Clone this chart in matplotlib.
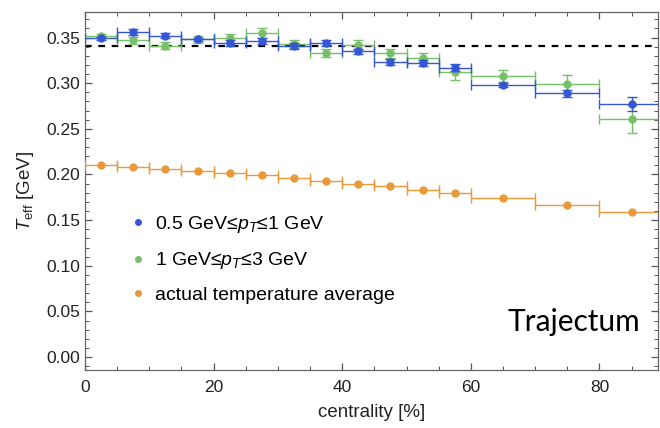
import matplotlib.pyplot as plt
from matplotlib.lines import Line2D
from matplotlib.ticker import MultipleLocator

plt.rcParams['font.family'] = ['Liberation Sans', 'DejaVu Sans']
plt.rcParams['mathtext.fontset'] = 'custom'
plt.rcParams['mathtext.rm'] = 'Liberation Sans'
plt.rcParams['mathtext.it'] = 'Liberation Sans:italic'

# centrality bins [%]
bin_lo = [0, 5, 10, 15, 20, 25, 30, 35, 40, 45, 50, 55, 60, 70, 80]
bin_hi = [5, 10, 15, 20, 25, 30, 35, 40, 45, 50, 55, 60, 70, 80, 90]

# effective temperature, 0.5 < pT < 1 GeV
t_low = [0.349, 0.356, 0.352, 0.348, 0.344, 0.346, 0.341, 0.344, 0.335,
         0.323, 0.322, 0.317, 0.298, 0.289, 0.277]
t_low_err = [0.002, 0.003, 0.003, 0.002, 0.003, 0.003, 0.003, 0.003, 0.003,
             0.003, 0.003, 0.004, 0.002, 0.004, 0.0075]

# effective temperature, 1 < pT < 3 GeV
t_high = [0.352, 0.347, 0.341, 0.348, 0.349, 0.355, 0.343, 0.333, 0.342,
          0.333, 0.328, 0.312, 0.308, 0.299, 0.261]
t_high_err = [0.002, 0.004, 0.004, 0.004, 0.005, 0.005, 0.004, 0.004, 0.005,
              0.005, 0.005, 0.008, 0.007, 0.010, 0.0155]

# actual average temperature
t_avg = [0.210, 0.208, 0.206, 0.204, 0.2016, 0.199, 0.196, 0.193, 0.190,
         0.187, 0.183, 0.180, 0.174, 0.1665, 0.159]

t_ref = 0.341

labels = ['0.5 GeV≤$p_T$≤1 GeV', '1 GeV≤$p_T$≤3 GeV', 'actual temperature average']
colors = ['#3557d6', '#77c069', '#e9993a']

mid = [(a + b) / 2 for a, b in zip(bin_lo, bin_hi)]
half = [(b - a) / 2 for a, b in zip(bin_lo, bin_hi)]

fig = plt.figure(figsize=(6.6, 4.28), dpi=100)
ax = fig.add_axes([85 / 660, 58 / 428, 573 / 660, 358 / 428])

ax.axhline(t_ref, color='black', lw=1.6, ls=(0, (3, 3)), zorder=1)

style = dict(fmt='o', ms=5, elinewidth=1.0, capsize=3.5, capthick=1.0)
ax.errorbar(mid, t_avg, xerr=half, color=colors[2], zorder=3, **style)
ax.errorbar(mid, t_high, xerr=half, yerr=t_high_err, color=colors[1], zorder=3, **style)
ax.errorbar(mid, t_low, xerr=half, yerr=t_low_err, color=colors[0], zorder=4, **style)

ax.set_xlim(0, 89.1)
ax.set_ylim(-0.0142, 0.378)
ax.xaxis.set_major_locator(MultipleLocator(20))
ax.xaxis.set_minor_locator(MultipleLocator(5))
ax.yaxis.set_major_locator(MultipleLocator(0.05))
ax.yaxis.set_minor_locator(MultipleLocator(0.01))
ax.yaxis.set_major_formatter(lambda v, p: f'{v:.2f}')

for s in ax.spines.values():
    s.set_color('#666666')
    s.set_linewidth(0.9)
ax.tick_params(which='both', direction='in', top=True, right=True,
               color='#555555', labelsize=12.5, labelcolor='#222222')
ax.tick_params(which='major', length=5, width=0.9)
ax.tick_params(which='minor', length=3, width=0.7)
ax.tick_params(axis='x', pad=7)

ax.set_xlabel('centrality [%]', fontsize=13.5, color='#222222', labelpad=7)
ax.set_ylabel(r'$T_{\rm eff}$ [GeV]', fontsize=13.5, color='#222222', labelpad=7)

handles = [Line2D([], [], ls='none', marker='o', ms=4, color=c) for c in colors]
ax.legend(handles, labels, loc='upper left', bbox_to_anchor=(0.0445, 0.484),
          frameon=False, fontsize=14, handletextpad=0.38, labelspacing=0.78,
          handlelength=1.0, borderpad=0.4)

ax.text(0.969, 0.134, 'Trajectum', transform=ax.transAxes, ha='right', va='center',
        fontsize=21.5, family='Lato', color='black')

fig.savefig('out.png', dpi=100)
